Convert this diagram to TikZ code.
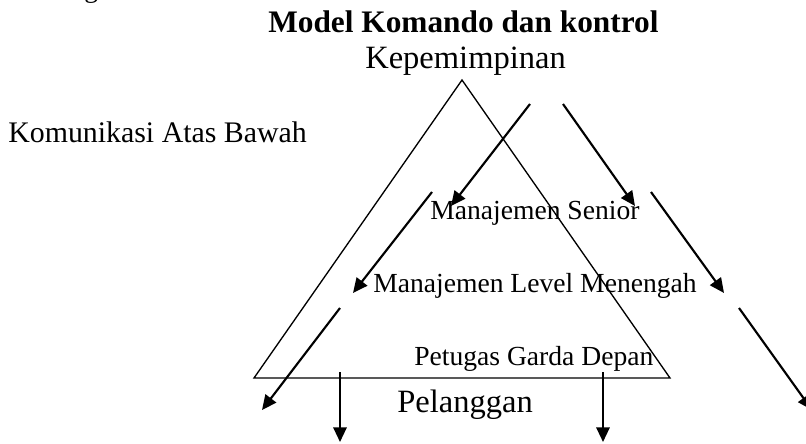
\documentclass[tikz,border=0pt]{standalone}
\usepackage{fontspec}
\setmainfont{Liberation Serif}
\usetikzlibrary{arrows,arrows.meta}

\begin{document}
\begin{tikzpicture}[x=0.75pt,y=-0.75pt,
        lbl/.style={anchor=base west,inner sep=0pt,font=\fontsize{20.7}{24}\selectfont},
        big/.style={lbl,font=\fontsize{24.4}{28}\selectfont},
        flow/.style={line width=1.6pt,-{Triangle[length=11pt,width=10pt]}}]
        \useasboundingbox (0,0) rectangle (806,443);
        \node[lbl] (sisa) at (84,-3) {g};
        \node[lbl,font=\bfseries\fontsize{23.5}{28}\selectfont] (judul) at (268,32) {Model Komando dan kontrol};
        \node[big] (pimpin) at (365,68) {Kepemimpinan};
        \node[lbl,font=\fontsize{22.4}{26}\selectfont] (kom) at (8,142) {Komunikasi Atas Bawah};
        \node[lbl] (senior) at (430,219) {Manajemen Senior};
        \node[lbl] (tengah) at (373,292) {Manajemen Level Menengah};
        \node[lbl] (garda) at (414,365) {Petugas Garda Depan};
        \node[big] (pelanggan) at (397,412) {Pelanggan};
        \coordinate (puncak) at (462,80);
        \coordinate (kiri) at (254,378);
        \coordinate (kanan) at (670,378);
        \draw[line width=1pt] (puncak) -- (kiri) -- (kanan) -- cycle;
        \foreach \n/\xa/\ya/\xb/\yb in {1/530/104/451/206, 2/432/192/353/293, 3/340/308/262/410,
            4/563/104/635/206, 5/651/192/724/293, 6/739/308/812/410, 7/340/372/340/442, 8/603/372/603/442}
        {
        \coordinate (p\n) at (\xa,\ya);
        \coordinate (q\n) at (\xb,\yb);
        \draw[flow] (p\n) -- (q\n);
        }
    \end{tikzpicture}
\end{document}
